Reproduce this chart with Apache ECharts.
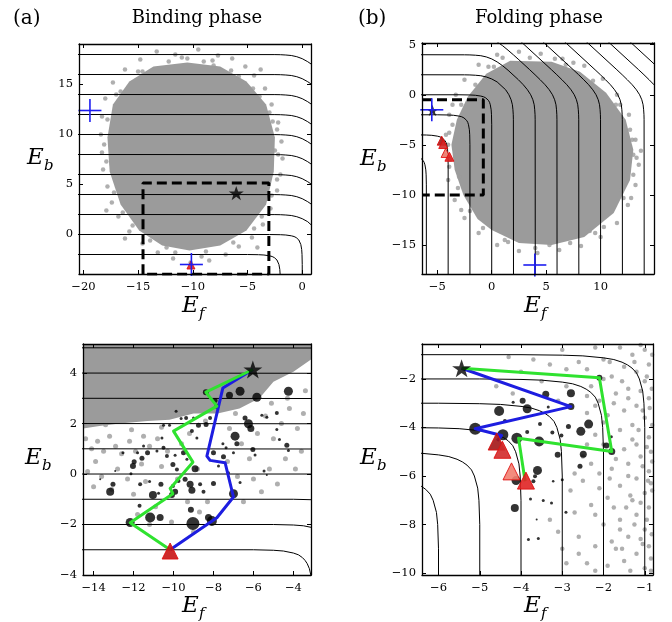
<!DOCTYPE html>
<html>
<head>
<meta charset="utf-8">
<script src="https://cdn.jsdelivr.net/npm/echarts@6/dist/echarts.min.js"></script>
<style>
  html, body { margin: 0; padding: 0; background: #fff; }
  #chart { width: 672px; height: 622px; }
</style>
</head>
<body>
<div id="chart"></div>
<script>
var serif = "'DejaVu Serif', serif";
var gray = '#9b9b9b';

// contour levels of each panel
var bindTopLevels = [-2, 0, 2, 4, 6, 8, 10, 12, 14, 16, 18];
var foldTopLevels = [-6, -4, -2, 0, 2, 4, 6, 8, 10, 12, 14, 16, 18, 20];
var bindZoomLevels = [-3, -2, -1, 0, 1, 2, 3, 4, 5];
var foldZoomLevels = [-6, -5, -4, -3, -2, -1];

// rounded corner shapes of the contours, offsets
var cornerSquare = [[-3, 0], [-2, -0.02], [-1.5, -0.05], [-1, -0.13], [-0.75, -0.2], [-0.55, -0.31], [-0.42, -0.42],
  [-0.31, -0.55], [-0.2, -0.75], [-0.13, -1], [-0.05, -1.5], [-0.02, -2], [0, -3]];
var cornerBevel = [[-2.5, -0.01], [-2, -0.02], [-1.5, -0.05], [-1, -0.1], [-0.5, -0.22], [0, -0.42], [0.5, -0.72],
  [1, -1.1], [1.5, -1.55], [2, -2.02], [2.5, -2.51]];

// dense part of the clouds (outline) and the loose dots around them
var bindCloud = [[-10.5, 17.2], [-7.5, 16.8], [-5.1, 15.3], [-3.3, 13.0], [-2.5, 9.7], [-2.6, 6.3], [-3.3, 3.0], [-5.1, 0.4],
  [-7.5, -1.1], [-10.3, -1.6], [-12.8, -1.1], [-14.9, 0.4], [-16.6, 3.0], [-17.6, 6.3], [-17.8, 9.7], [-17.3, 13.0],
  [-15.8, 15.3], [-13.6, 16.8]];
var bindFringe = [[-13.3, 18.3], [-11.6, 18.0], [-9.5, 18.5], [-7.7, 17.9], [-6.4, 17.6], [-14.8, 17.5], [-16.2, 16.5],
  [-5.2, 16.8], [-4.4, 15.9], [-17.3, 15.2], [-3.4, 14.6], [-18.0, 13.6], [-2.8, 13.0], [-18.3, 11.8], [-2.2, 11.2],
  [-18.4, 10.0], [-1.9, 9.3], [-18.3, 8.2], [-1.8, 7.6], [-18.2, 6.5], [-2.0, 6.0], [-17.8, 4.8], [-2.3, 4.4],
  [-17.4, 3.2], [-2.9, 2.6], [-16.8, 1.8], [-3.6, 1.0], [-15.8, 0.3], [-4.6, -0.3], [-14.6, -0.9], [-5.8, -1.2],
  [-13.2, -1.8], [-7.0, -2.0], [-11.8, -2.4], [-8.5, -2.6], [-10.2, -2.8], [-9.2, -2.2], [-12.4, -1.3], [-15.0, 16.3],
  [-17.0, 14.0], [-3.8, 16.5], [-2.5, 8.4], [-17.9, 2.4], [-16.2, -0.4], [-4.1, -1.3], [-11.0, 17.7], [-8.2, 17.4],
  [-10.5, 17.6], [-9, 17.3], [-6.5, 16.4], [-4.5, 14.6], [-3.0, 12.2], [-2.3, 10.5], [-2.2, 8], [-2.3, 5.5],
  [-2.8, 3.9], [-3.7, 1.8], [-4.4, 0.6], [-6.3, -0.8], [-8.8, -1.7], [-11.6, -1.8], [-13.9, -0.6], [-15.5, 0.9],
  [-16.4, 2.2], [-17.2, 4.2], [-17.9, 7.3], [-18.1, 9.0], [-17.8, 11.5], [-16.6, 14.3], [-14.6, 16.3], [-12.2, 17.3],
  [-8.1, 16.9], [-5.8, 15.8], [-3.9, 13.8], [-2.7, 11.3]];
var foldCloud = [[1.7, 3.4], [5.5, 3.3], [8.1, 2.3], [10.5, 0.2], [12.3, -2.5], [13.0, -5.5], [12.7, -8.5], [11.2, -11.8],
  [8.5, -14.2], [5.5, -15.0], [2.5, -14.8], [0, -13.5], [-1.3, -12.4], [-2.6, -10], [-3.4, -7.5], [-3.7, -5],
  [-3.2, -2.5], [-2.2, -0.2], [-0.5, 2.1]];
var foldFringe = [[0.5, 4.0], [2.5, 4.3], [4.5, 4.1], [6.5, 3.6], [-1.2, 3.0], [8.5, 2.9], [-2.5, 1.5], [10.2, 1.6],
  [-3.3, 0], [11.5, 0], [-3.9, -2], [12.6, -2], [-4.2, -4], [13.2, -4.5], [-4.3, -6], [13.5, -7], [-4.0, -8.5],
  [13.2, -9], [-3.4, -10.5], [12.5, -11], [-2.5, -12.3], [11.5, -12.8], [-1.2, -13.8], [10, -14.2], [0.5, -15],
  [8.2, -15.1], [2.5, -15.6], [6.2, -15.5], [4.2, -15.8], [-0.3, 2.8], [7.5, 3.2], [11.8, -1], [-3.6, -1], [13.0, -6],
  [-2.8, -11.5], [9, -13.6], [1.5, -14.7], [5.3, -15.0], [12.8, -10.3], [-3.9, -7.2], [13.7, -5.6],
  [1.0, 3.7], [3.5, 3.7], [6.8, 3.0], [9.3, 1.4], [11.4, -1.0], [12.7, -3.5], [13.3, -6.3], [13.0, -8.0], [12.1, -10.3],
  [10.3, -13.2], [7.2, -14.8], [4.0, -15.3], [1.2, -14.5], [-0.8, -13.3], [-2.0, -11.6], [-3.1, -9.3], [-3.8, -6.5],
  [-4.0, -5.0], [-3.6, -3.0], [-2.8, -1.0], [-1.5, 1.0], [0.2, 2.8], [-3.0, -8.2], [-3.9, -3.8], [12.9, -4.5],
  [11.8, -9.5], [9.5, -13.8], [5.8, 3.6]];
var bindZoomCloud = [[-14.6, 5.2], [-3.1, 5.2], [-3.1, 4.55], [-4.0, 4.05], [-5.0, 3.65], [-5.7, 3.0], [-6.7, 2.6],
  [-7.8, 2.4], [-9.0, 2.4], [-10.2, 2.15], [-11.3, 2.1], [-12.7, 2.0], [-13.7, 1.9], [-14.6, 1.8]];
var bindZoomGray = [[-14.4, 1.4], [-14.1, 1.0], [-13.8, 1.3], [-13.5, 0.9], [-13.9, 0.5], [-13.2, 1.5], [-12.9, 1.1],
  [-12.6, 0.8], [-12.2, 1.3], [-11.9, 0.9], [-11.5, 1.5], [-11.2, 1.1], [-14.3, 0.1], [-13.6, -0.1], [-12.8, 0.2],
  [-12.3, -0.2], [-11.6, 0.4], [-14.0, -0.5], [-13.1, -0.6], [-12.0, -0.8], [-11.4, -0.3], [-10.8, 1.4], [-10.3, 0.9],
  [-9.6, 1.2], [-9.2, 1.6], [-10.6, 0.3], [-9.8, -0.2], [-9.3, -1.1], [-10.9, -1.3], [-8.7, -1.5], [-8.3, -1.1],
  [-8.8, 0.2], [-10.1, -1.9], [-9.0, -2.3], [-11.8, -1.6], [-11.2, -2.0], [-7.2, 1.8], [-6.6, 1.2], [-6.2, 0.6],
  [-5.8, 1.6], [-5.4, 2.3], [-5.0, 1.4], [-4.6, 2.0], [-4.2, 2.6], [-3.8, 1.8], [-3.5, 2.4], [-3.6, 0.9], [-4.4, 0.6],
  [-5.2, 0.2], [-6.0, -0.2], [-6.8, -0.1], [-7.3, 0.5], [-4.8, -0.4], [-3.9, 0.2], [-5.6, -0.7], [-6.5, -1.1],
  [-4.3, 3.0], [-3.4, 3.3], [-5.1, 2.8], [-6.9, 2.4], [-13.4, 1.95], [-12.1, 1.75], [-10.6, 1.85], [-8.4, 2.1]];
var foldZoomGray = [[-1.0, -0.8], [-1.3, -1.0], [-1.6, -0.7], [-2.0, -1.2], [-0.9, -1.4], [-1.2, -1.7], [-1.5, -1.5],
  [-1.8, -1.9], [-2.3, -2.3], [-1.0, -2.1], [-1.4, -2.4], [-1.7, -2.6], [-2.1, -2.9], [-0.9, -2.8], [-1.2, -3.1],
  [-1.5, -3.3], [-1.9, -3.5], [-2.4, -3.4], [-1.0, -3.6], [-1.3, -3.9], [-1.6, -4.1], [-2.2, -4.3], [-0.9, -4.4],
  [-1.2, -4.7], [-1.5, -4.9], [-1.1, -5.2], [-1.4, -5.5], [-1.8, -5.7], [-2.1, -5.9], [-2.5, -6.2], [-0.9, -5.8],
  [-1.2, -6.1], [-1.6, -6.4], [-1.0, -6.7], [-1.3, -7.0], [-1.9, -6.9], [-2.3, -7.2], [-2.7, -7.5], [-0.9, -7.3],
  [-1.2, -7.6], [-1.6, -7.8], [-2.0, -8.0], [-1.0, -8.2], [-1.4, -8.5], [-1.8, -8.7], [-2.2, -8.9], [-2.6, -9.2],
  [-0.9, -8.9], [-1.2, -9.2], [-1.5, -9.5], [-1.9, -9.7], [-2.9, -9.6], [-1.0, -9.8], [-3.1, -8.3], [-2.5, -5.2],
  [-2.8, -6.6], [-3.3, -7.8], [-3.0, -9.0], [-2.0, -2.0], [-2.4, -1.6], [-1.1, -0.6], [-3.7, -1.2], [-3.3, -1.4],
  [-2.9, -1.6], [-2.6, -1.3], [-4.0, -1.7], [-4.6, -2.3], [-3.5, -2.1], [-2.9, -2.3], [-4.2, -2.6], [-3.1, -2.9],
  [-2.4, -2.7], [-4.3, -1.1], [-3.0, -0.8], [-2.2, -0.7], [-0.85, -5.0], [-0.85, -6.3], [-0.85, -9.4], [-1.35, -6.8],
  [-1.7, -9.0], [-2.2, -9.9], [-2.0, -4.7], [-1.7, -5.3], [-1.1, -8.6], [-1.4, -2.8],
  [-0.82, -1.0], [-0.95, -1.9], [-0.83, -2.4], [-1.1, -2.5], [-0.88, -3.2], [-1.05, -3.3], [-0.82, -3.9], [-1.15, -4.1],
  [-0.95, -4.8], [-1.3, -4.5], [-0.82, -5.4], [-1.05, -5.6], [-0.92, -6.2], [-1.4, -6.0], [-0.82, -6.6], [-1.1, -7.1],
  [-0.95, -7.8], [-1.45, -7.3], [-0.83, -8.4], [-1.25, -8.0], [-1.05, -8.8], [-0.85, -9.9], [-1.35, -9.9], [-1.6, -8.2],
  [-1.75, -7.3], [-2.1, -6.5], [-1.85, -6.1], [-2.3, -5.5], [-2.0, -3.8], [-1.75, -3.0], [-2.2, -3.1], [-1.55, -2.1],
  [-1.85, -1.3], [-1.25, -1.3], [-2.6, -8.5], [-2.4, -9.6], [-2.2, -7.6], [-1.55, -9.0], [-2.7, -5.9], [-2.4, -4.7]];

// ensemble members shown as black dots: [Ef, Eb, size]
var bindZoomDots = [[-6.67, 3.28, 9], [-7.2, 3.12, 7], [-5.83, 3.04, 9], [-4.25, 3.28, 9], [-8.38, 3.24, 6], [-7.92, 2.91, 5],
  [-7.83, 2.68, 5], [-9.87, 2.49, 3], [-9.62, 2.2, 3], [-9.37, 2.22, 4], [-10.2, 1.93, 3], [-10.5, 1.93, 3], [-9.0, 2.22, 3],
  [-8.75, 1.93, 5], [-8.37, 1.96, 5], [-8.17, 2.22, 4], [-9.08, 1.7, 4], [-8.83, 1.43, 3], [-6.42, 2.22, 5], [-6.25, 1.99, 9],
  [-6.13, 1.8, 7], [-5.58, 2.33, 3], [-5.33, 2.25, 3], [-4.83, 2.42, 4], [-6.92, 1.5, 9], [-6.83, 1.2, 5], [-7.53, 1.2, 3],
  [-7.37, 1.04, 3], [-8.0, 0.84, 5], [-7.5, 0.68, 5], [-7.0, 0.84, 3], [-6.03, 0.97, 5], [-5.92, 0.75, 3], [-4.33, 1.14, 5],
  [-4.25, 0.93, 3], [-11.5, 1.11, 3], [-11.8, 0.84, 3], [-11.3, 0.84, 5], [-11.58, 0.62, 5], [-11.97, 0.49, 5],
  [-12.03, 0.32, 6], [-10.83, 0.91, 3], [-10.5, 1.04, 4], [-10.33, 0.71, 4], [-9.92, 0.74, 3], [-9.5, 0.84, 5],
  [-9.33, 0.58, 3], [-8.92, 0.21, 7], [-9.83, 0.18, 4], [-10.03, 0.38, 5], [-10.58, 1.43, 3], [-12.13, 0.01, 3],
  [-12.53, 0.84, 3], [-12.92, 0.12, 2], [-13.67, -0.21, 2], [-13.17, -0.7, 8], [-13.03, -0.41, 5], [-11.67, -0.41, 4],
  [-11.2, -0.3, 3], [-10.63, -0.41, 5], [-10.03, -0.47, 4], [-9.75, -0.28, 4], [-9.42, -0.21, 5], [-9.17, -0.41, 7],
  [-9.08, -0.64, 7], [-8.67, -0.41, 4], [-8.5, -0.7, 4], [-8.0, -0.38, 5], [-9.92, -0.7, 6], [-10.08, -0.83, 6],
  [-10.75, -0.76, 3], [-11.03, -0.83, 8], [-7.0, -0.78, 9], [-11.7, -1.26, 4], [-11.17, -1.72, 10], [-10.67, -1.72, 7],
  [-12.17, -1.92, 9], [-9.13, -1.42, 6], [-9.03, -1.96, 13], [-8.08, -1.86, 10], [-8.25, -1.72, 7], [-7.75, 0.32, 3],
  [-7.25, 0.05, 3], [-5.47, 0.12, 3], [-5.33, -0.04, 2], [-6.67, -0.34, 3], [-4.83, 1.76, 3], [-4.7, 1.37, 3]];
var foldZoomDots = [[-5.11, -4.05, 12], [-4.53, -3.32, 10], [-4.44, -4.30, 11], [-4.10, -4.44, 11], [-3.85, -3.23, 9],
  [-3.96, -2.90, 6], [-4.19, -2.96, 3], [-3.40, -2.63, 7], [-2.79, -2.59, 8], [-2.79, -3.14, 7], [-2.10, -1.95, 6],
  [-3.34, -3.16, 3], [-4.39, -3.73, 4], [-3.54, -3.86, 4], [-3.85, -4.19, 4], [-3.56, -4.58, 10], [-3.24, -4.21, 4],
  [-3.02, -4.33, 4], [-2.85, -3.96, 5], [-2.55, -4.16, 9], [-2.36, -3.86, 9], [-2.49, -5.10, 7], [-3.11, -5.12, 6],
  [-2.57, -5.60, 5], [-1.93, -4.74, 6], [-1.80, -4.99, 7], [-1.81, -4.38, 3], [-3.60, -5.77, 9], [-3.66, -6.01, 4],
  [-4.12, -6.19, 9], [-3.70, -6.22, 4], [-3.22, -6.22, 2.5], [-3.00, -6.15, 3], [-4.15, -7.32, 8], [-3.77, -6.95, 3],
  [-3.46, -7.01, 3], [-3.26, -7.11, 3], [-2.91, -7.49, 3], [-3.62, -7.79, 2], [-3.82, -8.62, 3], [-3.58, -8.58, 3]];

// trajectories
var bindGreen = [[-6.03, 4.14], [-8.38, 3.24], [-7.83, 2.69], [-10.0, 1.7], [-9.03, 0.47], [-10.17, -0.57],
  [-10.03, -0.78], [-12.17, -1.93], [-10.17, -3.0]];
var bindBlue = [[-6.03, 4.14], [-7.53, 3.41], [-8.33, 0.71], [-8.17, 0.54], [-7.42, 0.45], [-7.0, -0.91],
  [-7.83, -1.73], [-10.17, -3.0]];
var foldGreen = [[-5.44, -1.56], [-2.10, -1.95], [-1.80, -4.99], [-4.06, -4.44], [-3.9, -6.22]];
var foldBlue = [[-5.44, -1.56], [-2.79, -3.14], [-5.11, -4.05], [-4.47, -4.33], [-4.58, -4.55]];

// start / end markers
var bindStart = [[-6.03, 4.14]];
var bindEnd = [[-10.17, -3.05]];
var foldStart = [[-5.44, -1.56]];
var foldEnds = [[-4.59, -4.58], [-4.45, -4.92], [-4.23, -5.81], [-3.88, -6.19]];
var foldEndColors = ['#a31616', '#d22a2a', '#f28070', '#e02424'];
var bindCross = [[-19.4, 12.4], [-10.13, -3.0]];
var foldCross = [[-5.5, -1.5], [3.96, -17.0]];

// dashed boxes: zoom windows
var bindBox = [[-14.55, -3.97], [-14.55, 5.15], [-3.05, 5.15], [-3.05, -3.97], [-14.55, -3.97]];
var foldBox = [[-6.4, -0.5], [-0.77, -0.5], [-0.77, -10], [-6.4, -10]];

var panels = [
  { grid: { left: 79, top: 44, width: 232, height: 230 }, x: [-20.4, 0.8], y: [-3.95, 19.05],
    xt: [-20, -15, -10, -5, 0], yt: [0, 5, 10, 15] },
  { grid: { left: 422, top: 43, width: 232, height: 231 }, x: [-6.4, 14.9], y: [-17.9, 5.17],
    xt: [-5, 0, 5, 10], yt: [-15, -10, -5, 0, 5] },
  { grid: { left: 83, top: 344, width: 228, height: 231 }, x: [-14.53, -3.12], y: [-4, 5.15],
    xt: [-14, -12, -10, -8, -6, -4], yt: [-4, -2, 0, 2, 4] },
  { grid: { left: 422, top: 344, width: 231, height: 231 }, x: [-6.4, -0.8], y: [-10.08, -0.56],
    xt: [-6, -5, -4, -3, -2, -1], yt: [-10, -8, -6, -4, -2] }
];

var STAR = 'path://M50,2 L61.8,36.2 L97.6,36.2 L68.6,57.3 L79.4,91.6 L50,70.5 L20.6,91.6 L31.4,57.3 L2.4,36.2 L38.2,36.2 Z';

function fmt(v) {
  return v < 0 ? '\u2212' + (-v) : '' + v;
}

function contour(L, xmin, ymin) {
  var pts = [[xmin - 1, L]];
  if (L <= 0) {
    cornerSquare.forEach(function (c) { pts.push([L + c[0], L + c[1]]); });
  } else {
    cornerBevel.forEach(function (c) { if (c[0] < L / 2) pts.push([c[0], L + c[1]]); });
    cornerBevel.slice().reverse().forEach(function (c) { if (c[0] < L / 2) pts.push([L + c[1], c[0]]); });
  }
  pts.push([L, ymin - 1]);
  return pts;
}

var grids = [], xAxes = [], yAxes = [], series = [];
var frame = { show: true, onZero: false, lineStyle: { color: '#000', width: 1.3 } };

panels.forEach(function (p, i) {
  var g = p.grid;
  grids.push({ left: g.left, top: g.top, width: g.width, height: g.height, containLabel: false, outerBoundsMode: 'none' });
  [0, 1].forEach(function (k) {
    xAxes.push({
      gridIndex: i, type: 'value', min: p.x[0], max: p.x[1], position: k ? 'top' : 'bottom', zlevel: 1, z: 10,
      axisLine: frame, splitLine: { show: false },
      axisTick: { show: true, inside: true, length: 4, customValues: p.xt, lineStyle: { color: '#000', width: 1 } },
      axisLabel: { show: !k, customValues: p.xt, formatter: fmt, fontFamily: serif, fontSize: 11.5, color: '#000', margin: 7 }
    });
    yAxes.push({
      gridIndex: i, type: 'value', min: p.y[0], max: p.y[1], position: k ? 'right' : 'left', zlevel: 1, z: 10,
      axisLine: frame, splitLine: { show: false },
      axisTick: { show: true, inside: true, length: 4, customValues: p.yt, lineStyle: { color: '#000', width: 1 } },
      axisLabel: { show: !k, customValues: p.yt, formatter: fmt, fontFamily: serif, fontSize: 11.5, color: '#000', margin: 6 }
    });
  });
});

function ax(i) { return { xAxisIndex: 2 * i, yAxisIndex: 2 * i, animation: false, silent: true, zlevel: 1 }; }
function add(i, s) { series.push(Object.assign(ax(i), s)); }

// clouds sit on the bottom canvas layer so every line stays above them
function cloud(i, pts) {
  add(i, {
    type: 'custom', clip: true, zlevel: 0, z: 1, data: [pts[0]],
    renderItem: function (params, api) {
      return { type: 'polygon', shape: { points: pts.map(function (d) { return api.coord(d); }) }, style: { fill: gray } };
    }
  });
}
function dots(i, pts, size) {
  add(i, { type: 'scatter', data: pts, symbolSize: size, itemStyle: { color: gray }, z: 2, clip: true });
}
function contours(i, levels) {
  var p = panels[i];
  levels.forEach(function (L) {
    add(i, { type: 'line', data: contour(L, p.x[0], p.y[0]), symbol: 'none', clip: true, z: 3,
      lineStyle: { color: '#000', width: 1 } });
  });
}
function box(i, pts) {
  add(i, { type: 'line', data: pts, symbol: 'none', clip: true, z: 4, lineStyle: { color: '#000', width: 3, type: [10, 5] } });
}
function blackDots(i, pts) {
  add(i, { type: 'scatter', data: pts, symbolSize: function (v) { return v[2]; }, itemStyle: { color: '#000' }, z: 5 });
}
function path(i, pts, color) {
  add(i, { type: 'line', data: pts, symbol: 'none', z: 6, lineStyle: { color: color, width: 3, join: 'round' } });
}
function star(i, pts, size) {
  add(i, { type: 'scatter', data: pts, symbol: STAR, symbolKeepAspect: true, symbolSize: size, itemStyle: { color: '#000' }, z: 8 });
}
function triangles(i, pts, size, colors) {
  add(i, { type: 'scatter', symbol: 'triangle', symbolSize: size, z: 7,
    data: pts.map(function (d, k) {
      return { value: d, itemStyle: { color: colors[k % colors.length], borderColor: '#e01010', borderWidth: 1, opacity: 0.9 } };
    }) });
}
function crosses(i, pts, half) {
  add(i, {
    type: 'custom', z: 9, data: pts,
    renderItem: function (params, api) {
      var c = api.coord([api.value(0), api.value(1)]);
      var st = { stroke: '#1d1df0', lineWidth: 1.6 };
      return { type: 'group', children: [
        { type: 'line', shape: { x1: c[0] - half, y1: c[1], x2: c[0] + half, y2: c[1] }, style: st },
        { type: 'line', shape: { x1: c[0], y1: c[1] - half, x2: c[0], y2: c[1] + half }, style: st }
      ] };
    }
  });
}

// (a) binding phase, whole ensemble
cloud(0, bindCloud);
dots(0, bindFringe, 4.5);
contours(0, bindTopLevels);
box(0, bindBox);
star(0, bindStart, 15);
triangles(0, bindEnd, 8, ['#e02020']);
crosses(0, bindCross, 11.5);

// (b) folding phase, whole ensemble
cloud(1, foldCloud);
dots(1, foldFringe, 4.5);
contours(1, foldTopLevels);
box(1, foldBox);
triangles(1, foldEnds, 9, foldEndColors);
star(1, foldStart, 12);
crosses(1, foldCross, 11.5);

// (a) zoom
cloud(2, bindZoomCloud);
dots(2, bindZoomGray, 5);
contours(2, bindZoomLevels);
blackDots(2, bindZoomDots);
path(2, bindBlue, '#1d1de0');
path(2, bindGreen, '#2fe22f');
triangles(2, bindEnd, 16, ['#c81414']);
star(2, bindStart, 19);

// (b) zoom
dots(3, foldZoomGray, 4.5);
contours(3, foldZoomLevels);
blackDots(3, foldZoomDots);
path(3, foldBlue, '#1d1de0');
path(3, foldGreen, '#2fe22f');
triangles(3, foldEnds, 17, foldEndColors);
star(3, foldStart, 19);

function txt(x, y, s, font, align) {
  return { type: 'text', x: x, y: y, zlevel: 1, z: 20, silent: true,
    style: { text: s, font: font, fill: '#000', align: align || 'left', verticalAlign: 'middle' } };
}
var bigE = 'italic 23px ' + serif, sub = 'italic 15px ' + serif;
var graphics = [
  txt(13, 19, '(a)', '20px ' + serif),
  txt(197, 18, 'Binding phase', '18px ' + serif, 'center'),
  txt(358, 19, '(b)', '20px ' + serif),
  txt(539, 18, 'Folding phase', '18px ' + serif, 'center')
];
[[27, 158, 'b'], [25, 458, 'b'], [360, 159, 'b'], [360, 458, 'b'],
 [182, 306, 'f'], [182, 606, 'f'], [524, 306, 'f'], [524, 606, 'f']].forEach(function (l) {
  graphics.push(txt(l[0], l[1], 'E', bigE));
  graphics.push(txt(l[0] + 17, l[1] + 8, l[2], sub));
});

var chart = echarts.init(document.getElementById('chart'), null, { renderer: 'canvas' });
chart.setOption({
  animation: false,
  backgroundColor: '#fff',
  grid: grids,
  xAxis: xAxes,
  yAxis: yAxes,
  series: series,
  graphic: graphics
});
</script>
</body>
</html>
